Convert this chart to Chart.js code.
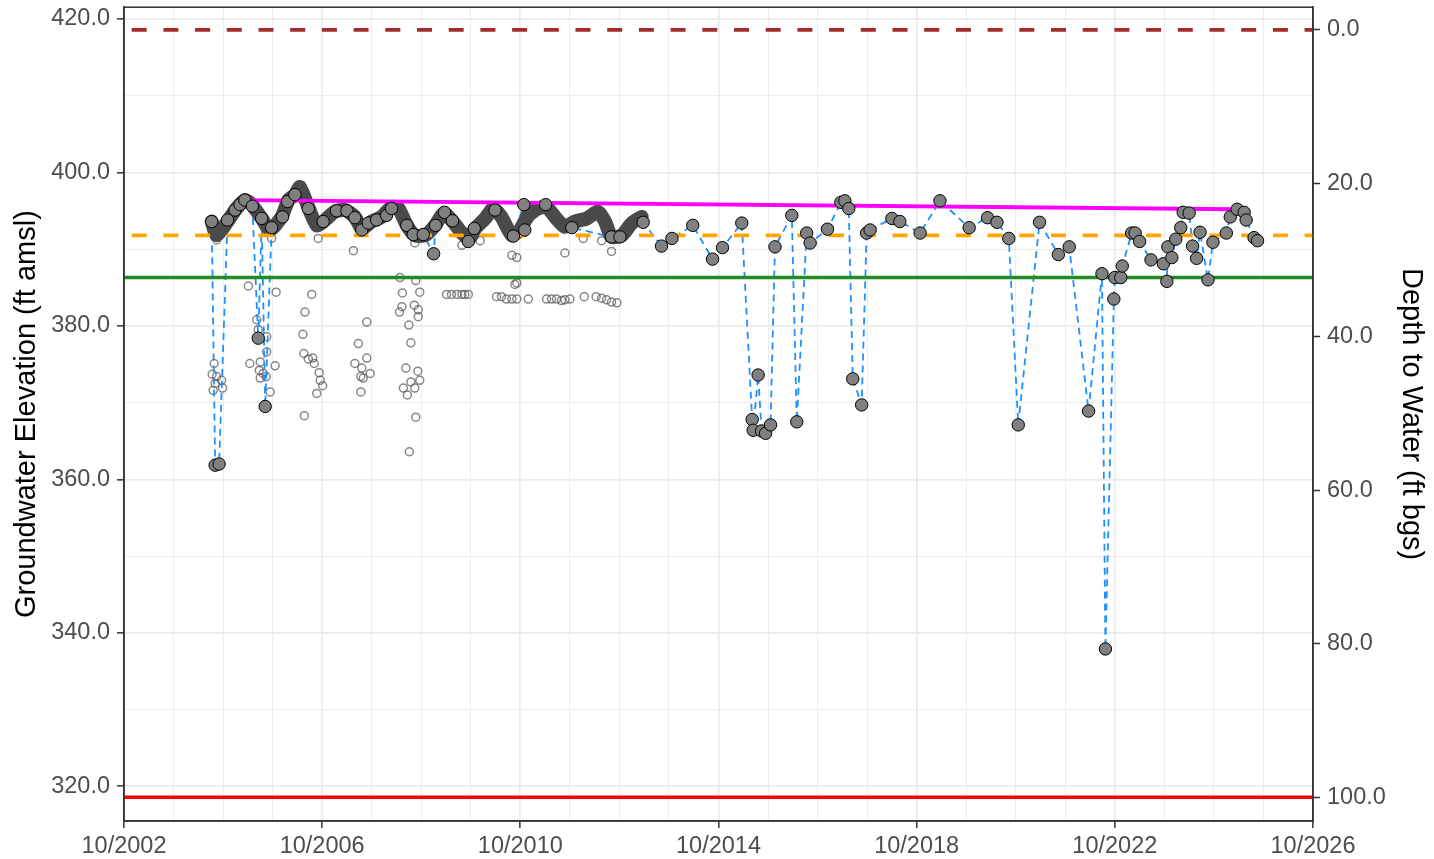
<!DOCTYPE html>
<html>
<head>
<meta charset="utf-8">
<title>Groundwater Elevation</title>
<script src="https://cdn.jsdelivr.net/npm/chart.js@4.4.1/dist/chart.umd.min.js"></script>
<style>
  html, body { margin: 0; padding: 0; background: #ffffff; }
  #wrap { width: 1434px; height: 859px; }
</style>
</head>
<body>
<div id="wrap"><canvas id="gwChart" width="1434" height="859"></canvas></div>
<script>
// decimal years, 10/2002 = 2002.75
const xTickYears = [2002.75, 2006.75, 2010.75, 2014.75, 2018.75, 2022.75, 2026.75];
const xTickLabels = ["10/2002", "10/2006", "10/2010", "10/2014", "10/2018", "10/2022", "10/2026"];
const elevTicks = [320, 340, 360, 380, 400, 420];
const depthTicks = [0, 20, 40, 60, 80, 100];

// reference levels (ft amsl)
const groundSurfaceElev = 418.57;
const upperThresholdElev = 391.8;
const lowerThresholdElev = 386.3;
const wellBottomElev = 318.57;

// trend line end points
const trendYears = [2005.19, 2025.21];
const trendElev = [396.4, 395.2];

// transducer record (continuous)
const bandYears = [2004.52, 2004.62, 2004.86, 2005.02, 2005.19, 2005.33, 2005.53, 2005.70, 2005.93, 2006.07,
  2006.20, 2006.30, 2006.47, 2006.64, 2006.81, 2007.01, 2007.21, 2007.41, 2007.55, 2007.75,
  2007.95, 2008.15, 2008.29, 2008.46, 2008.62, 2008.83, 2009.03, 2009.20, 2009.36, 2009.57,
  2009.73, 2009.84, 2010.04, 2010.20, 2010.37, 2010.58, 2010.74, 2010.91, 2011.11, 2011.28,
  2011.45, 2011.65, 2011.85, 2012.09, 2012.32, 2012.46, 2012.59, 2012.80, 2013.00, 2013.20];
const bandElev = [393.6, 391.8, 393.8, 395.3, 396.4, 395.8, 394.0, 392.5, 394.2, 396.4,
  397.1, 398.1, 395.5, 393.1, 393.8, 394.9, 395.1, 394.2, 392.7, 393.6,
  394.2, 395.5, 395.3, 393.1, 391.8, 391.8, 393.1, 394.7, 393.8, 392.1,
  391.4, 392.7, 394.0, 395.3, 394.2, 391.8, 392.5, 394.4, 395.3, 395.5,
  394.2, 392.9, 393.6, 394.0, 394.9, 393.6, 391.6, 391.8, 393.4, 394.2];

// manual measurements
const manualYears = [2004.52, 2004.59, 2004.67, 2004.84, 2004.99, 2005.09, 2005.19, 2005.34, 2005.46, 2005.53,
  2005.60, 2005.73, 2005.95, 2006.05, 2006.20, 2006.47, 2006.77, 2007.04, 2007.25, 2007.41,
  2007.55, 2007.68, 2007.85, 2008.05, 2008.15, 2008.46, 2008.59, 2008.79, 2009.00, 2009.04,
  2009.22, 2009.38, 2009.70, 2009.82, 2010.24, 2010.61, 2010.82, 2010.84, 2011.26, 2011.79,
  2012.59, 2012.76, 2013.23, 2013.60, 2013.81, 2014.23, 2014.63, 2014.83, 2015.22, 2015.43,
  2015.45, 2015.55, 2015.62, 2015.70, 2015.80, 2015.89, 2016.23, 2016.33, 2016.53, 2016.60,
  2016.95, 2017.22, 2017.30, 2017.38, 2017.46, 2017.64, 2017.74, 2017.81, 2018.25, 2018.41,
  2018.82, 2019.22, 2019.81, 2020.18, 2020.37, 2020.61, 2020.80, 2021.23, 2021.61, 2021.83,
  2022.22, 2022.49, 2022.56, 2022.73, 2022.75, 2022.87, 2022.90, 2023.09, 2023.16, 2023.25,
  2023.48, 2023.73, 2023.80, 2023.82, 2023.90, 2023.98, 2024.08, 2024.13, 2024.25, 2024.32,
  2024.40, 2024.47, 2024.63, 2024.73, 2025.00, 2025.08, 2025.22, 2025.36, 2025.40, 2025.56,
  2025.63];
const manualElev = [393.6, 361.85, 362.0, 393.8, 395.1, 395.8, 396.4, 395.6, 378.4, 394.0,
  369.5, 392.8, 394.2, 396.2, 397.1, 395.3, 393.6, 395.0, 395.0, 394.1,
  392.5, 393.4, 393.8, 394.4, 395.3, 393.1, 391.9, 391.9, 389.4, 393.1,
  394.8, 393.7, 391.0, 392.7, 395.1, 391.7, 395.8, 392.5, 395.8, 392.8,
  391.6, 391.6, 393.5, 390.4, 391.4, 393.1, 388.7, 390.2, 393.4, 367.8,
  366.4, 373.6, 366.3, 366.0, 367.1, 390.3, 394.4, 367.5, 392.1, 390.8,
  392.6, 396.1, 396.3, 395.3, 373.1, 369.7, 392.1, 392.5, 394.0, 393.6,
  392.1, 396.3, 392.8, 394.1, 393.5, 391.4, 367.1, 393.5, 389.3, 390.3,
  368.9, 386.8, 337.9, 383.5, 386.3, 386.3, 387.8, 392.1, 392.1, 391.0,
  388.6, 388.1, 385.8, 390.3, 388.9, 391.3, 392.8, 394.8, 394.7, 390.4,
  388.8, 392.2, 386.0, 390.9, 392.1, 394.2, 395.2, 394.8, 393.8, 391.5,
  391.1];

// questionable readings (open circles)
const flaggedYears = [2004.57, 2004.53, 2004.62, 2004.59, 2004.72, 2004.55, 2004.74, 2004.62,
  2005.26, 2005.43, 2005.46, 2005.63, 2005.29, 2005.50, 2005.48, 2005.50, 2005.62, 2005.80, 2005.63, 2005.70, 2005.56, 2005.82, 2005.73,
  2006.54, 2006.40, 2006.36, 2006.38, 2006.47, 2006.56, 2006.59, 2006.69, 2006.71, 2006.76, 2006.64, 2006.39, 2006.67,
  2007.38, 2007.48, 2007.41, 2007.55, 2007.53, 2007.65, 2007.72, 2007.58, 2007.53, 2007.65,
  2008.32, 2008.64, 2008.37, 2008.72, 2008.36, 2008.31, 2008.61, 2008.69, 2008.69, 2008.50, 2008.54, 2008.44,
  2008.68, 2008.72, 2008.39, 2008.62, 2008.47, 2008.54, 2008.64, 2008.51, 2008.62,
  2009.26, 2009.36, 2009.47, 2009.57, 2009.63, 2009.70, 2009.57, 2009.94,
  2010.27, 2010.37, 2010.47, 2010.58, 2010.68, 2010.91, 2010.64, 2010.68, 2010.58, 2010.68,
  2011.28, 2011.38, 2011.48, 2011.58, 2011.65, 2011.75, 2011.65,
  2012.02, 2012.04, 2012.28, 2012.39, 2012.49, 2012.59, 2012.70, 2012.39, 2012.59];
const flaggedElev = [375.1, 373.7, 373.4, 372.5, 372.9, 371.6, 371.9, 391.2,
  385.2, 380.8, 379.5, 378.6, 375.1, 375.3, 374.2, 373.2, 373.4, 374.8, 376.6, 371.4, 373.8, 384.4, 391.4,
  384.1, 381.8, 378.9, 376.4, 375.7, 375.8, 375.1, 373.9, 372.9, 372.2, 371.2, 368.3, 391.4,
  389.8, 377.7, 375.1, 374.5, 373.4, 375.8, 373.8, 373.2, 371.4, 380.5,
  386.3, 385.9, 384.3, 384.4, 382.5, 381.8, 382.7, 382.1, 381.2, 380.1, 377.8, 374.5,
  374.1, 372.9, 371.9, 371.9, 371.0, 372.7, 368.1, 363.6, 390.8,
  384.1, 384.1, 384.1, 384.1, 384.1, 384.1, 390.5, 391.1,
  383.8, 383.8, 383.5, 383.5, 383.5, 383.5, 385.4, 385.6, 389.2, 388.9,
  383.5, 383.5, 383.5, 383.3, 383.4, 383.5, 389.5,
  391.4, 383.8, 383.8, 383.6, 383.4, 383.1, 383.0, 391.1, 389.7];

const X_MIN = 2002.75, X_MAX = 2026.75;
const ELEV_MIN = 315.48, ELEV_MAX = 421.53;

const zip = (xs, ys) => xs.map((x, i) => ({ x: x, y: ys[i] }));
const flat = (elev) => [{ x: X_MIN, y: elev }, { x: X_MAX, y: elev }];
const near = (list, v) => list.some((t) => Math.abs(t - v) < 1e-6);

Chart.defaults.font.family = '"Liberation Sans", Arial, Helvetica, sans-serif';

// ggplot style frame around the panel
const panelBorder = {
  id: "panelBorder",
  afterDatasetsDraw(chart) {
    const { ctx, chartArea: a } = chart;
    ctx.save();
    ctx.strokeStyle = "#333333";
    ctx.lineWidth = 1.5;
    ctx.strokeRect(a.left, a.top, a.right - a.left, a.bottom - a.top);
    ctx.restore();
  }
};

// fixed axis sizes so the panel sits where we want it
const fixWidth = (w) => (sc) => { sc.width = w; sc.paddingTop = 0; sc.paddingBottom = 0; };
const fixHeight = (h) => (sc) => { sc.height = h; sc.paddingLeft = 0; sc.paddingRight = 0; };

const tickFont = { size: 23.5 };
const titleFont = { size: 29 };

new Chart(document.getElementById("gwChart"), {
  type: "scatter",
  data: {
    datasets: [
      {
        label: "Manual",
        data: zip(manualYears, manualElev),
        pointRadius: 6.2,
        pointBackgroundColor: "#808080",
        pointBorderColor: "#000000",
        pointBorderWidth: 1,
        showLine: false,
        order: 0
      },
      {
        label: "Trend",
        data: zip(trendYears, trendElev),
        showLine: true,
        borderColor: "#ff00ff",
        borderWidth: 3.8,
        pointRadius: 0,
        order: 1
      },
      {
        label: "Ground surface",
        data: flat(groundSurfaceElev),
        showLine: true,
        borderColor: "#a52a2a",
        borderWidth: 3.6,
        borderDash: [15, 16.7],
        borderDashOffset: 24,
        pointRadius: 0,
        order: 1
      },
      {
        label: "Upper threshold",
        data: flat(upperThresholdElev),
        showLine: true,
        borderColor: "#ffa500",
        borderWidth: 3.6,
        borderDash: [15, 16.7],
        borderDashOffset: 24,
        pointRadius: 0,
        order: 1
      },
      {
        label: "Lower threshold",
        data: flat(lowerThresholdElev),
        showLine: true,
        borderColor: "#228b22",
        borderWidth: 3.6,
        pointRadius: 0,
        order: 1
      },
      {
        label: "Well bottom",
        data: flat(wellBottomElev),
        showLine: true,
        borderColor: "#ff0000",
        borderWidth: 3.6,
        pointRadius: 0,
        order: 1
      },
      {
        label: "Transducer",
        data: zip(bandYears, bandElev),
        showLine: true,
        borderColor: "#4a4a4a",
        borderWidth: 14,
        borderCapStyle: "round",
        borderJoinStyle: "round",
        tension: 0.2,
        pointRadius: 0,
        order: 2
      },
      {
        label: "Manual line",
        data: zip(manualYears, manualElev),
        showLine: true,
        borderColor: "#1e90ff",
        borderWidth: 1.8,
        borderDash: [7, 5],
        pointRadius: 0,
        order: 3
      },
      {
        label: "Flagged",
        data: zip(flaggedYears, flaggedElev),
        pointRadius: 4,
        pointBackgroundColor: "rgba(0,0,0,0)",
        pointBorderColor: "rgba(85,85,85,0.7)",
        pointBorderWidth: 1.5,
        showLine: false,
        order: 4
      }
    ]
  },
  options: {
    responsive: false,
    animation: false,
    events: [],
    layout: { padding: { top: 7, left: 0, right: 0, bottom: 0 } },
    plugins: { legend: { display: false }, tooltip: { enabled: false } },
    scales: {
      x: {
        type: "linear",
        min: X_MIN,
        max: X_MAX,
        afterBuildTicks: (sc) => {
          const t = [];
          for (let v = X_MIN; v <= X_MAX + 1e-6; v += 1) t.push({ value: v });
          sc.ticks = t;
        },
        afterFit: fixHeight(38),
        ticks: {
          autoSkip: false,
          maxRotation: 0,
          minRotation: 0,
          padding: 4,
          color: "#4d4d4d",
          font: tickFont,
          callback: (v) => {
            const i = xTickYears.findIndex((t) => Math.abs(t - v) < 1e-6);
            return i >= 0 ? xTickLabels[i] : "";
          }
        },
        grid: {
          color: "#ebebeb",
          lineWidth: (c) => (c.tick && near(xTickYears, c.tick.value) ? 1.7 : 0.9),
          tickColor: (c) => (c.tick && near(xTickYears, c.tick.value) ? "#333333" : "rgba(0,0,0,0)"),
          tickLength: 7,
          tickWidth: 1.5
        },
        border: { display: true, color: "#333333", width: 1.5 }
      },
      y: {
        type: "linear",
        position: "left",
        min: ELEV_MIN,
        max: ELEV_MAX,
        afterBuildTicks: (sc) => {
          const t = [];
          for (let v = 320; v <= 420; v += 10) t.push({ value: v });
          sc.ticks = t;
        },
        afterFit: fixWidth(124),
        ticks: {
          autoSkip: false,
          padding: 7,
          color: "#4d4d4d",
          font: tickFont,
          callback: (v) => (near(elevTicks, v) ? v.toFixed(1) : "")
        },
        grid: {
          color: "#ebebeb",
          lineWidth: (c) => (c.tick && near(elevTicks, c.tick.value) ? 1.7 : 0.9),
          tickColor: (c) => (c.tick && near(elevTicks, c.tick.value) ? "#333333" : "rgba(0,0,0,0)"),
          tickLength: 7,
          tickWidth: 1.5
        },
        border: { display: true, color: "#333333", width: 1.5 },
        title: {
          display: true,
          text: "Groundwater Elevation (ft amsl)",
          color: "#000000",
          font: titleFont,
          padding: { top: 10, bottom: 0 }
        }
      },
      yDepth: {
        type: "linear",
        position: "right",
        reverse: true,
        // depth below ground = ground surface elevation - water elevation
        min: groundSurfaceElev - ELEV_MAX,
        max: groundSurfaceElev - ELEV_MIN,
        afterBuildTicks: (sc) => { sc.ticks = depthTicks.map((v) => ({ value: v })); },
        afterFit: fixWidth(121),
        ticks: {
          autoSkip: false,
          padding: 7,
          color: "#4d4d4d",
          font: tickFont,
          callback: (v) => v.toFixed(1)
        },
        grid: {
          drawOnChartArea: false,
          tickColor: "#333333",
          tickLength: 7,
          tickWidth: 1.5
        },
        border: { display: true, color: "#333333", width: 1.5 },
        title: {
          display: true,
          text: "Depth to Water (ft bgs)",
          color: "#000000",
          font: titleFont,
          padding: { top: 6, bottom: 0 }
        }
      }
    }
  },
  plugins: [panelBorder]
});
</script>
</body>
</html>
